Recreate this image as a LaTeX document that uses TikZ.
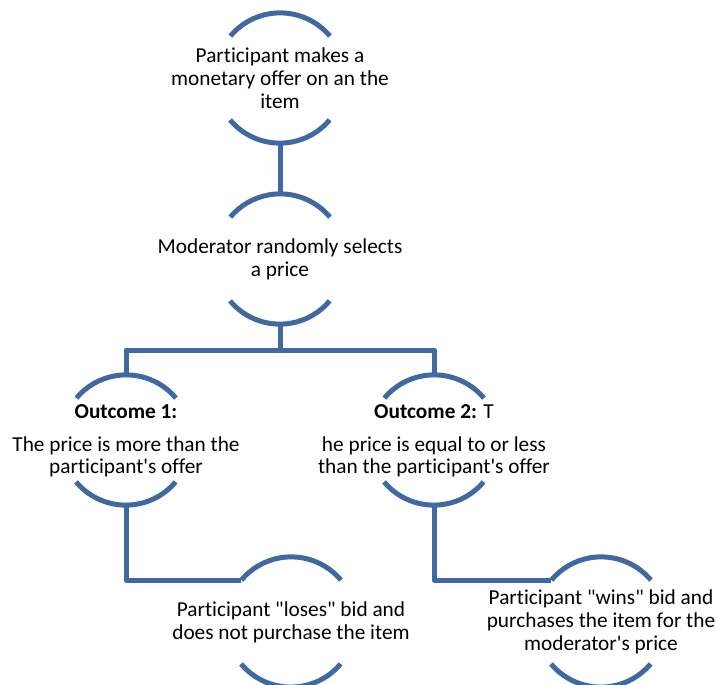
\documentclass[tikz,border=0pt]{standalone}
\usepackage{fontspec}
\newfontfamily\calfont{Carlito}[Ligatures=CommonOff]
\definecolor{arcblue}{RGB}{64,105,160}
\tikzset{
  ring/.style={circle, minimum size=130pt, inner sep=0pt, draw=none},
  label/.style={align=center, font=\calfont\fontsize{21.3}{22.7}\selectfont, text=black, inner sep=0pt},
  conn/.style={draw=arcblue, line width=5pt, line join=round},
}
\newcommand{\ringarcs}[1]{%
  \draw[arcblue, line width=5pt] (#1.40) arc[start angle=40, end angle=140, radius=65pt];
  \draw[arcblue, line width=5pt] (#1.220) arc[start angle=220, end angle=320, radius=65pt];
}
\begin{document}
\begin{tikzpicture}[x=1pt,y=1pt]
\useasboundingbox (0,0) rectangle (716,-685);
% circles
\node[ring] (c1) at (280,-78) {};
\node[ring] (c2) at (280,-259) {};
\node[ring] (c3) at (126,-440) {};
\node[ring] (c4) at (434,-440) {};
\node[ring] (c5) at (291,-622) {};
\node[ring] (c6) at (601,-622) {};
\coordinate (bar) at (280,-350);
% connectors
\draw[conn] (c1.south) -- (c2.north);
\draw[conn] (c2.south) -- (bar);
\draw[conn] (c3.north) |- (bar) -| (c4.north);
\draw[conn] (c3.south) |- (c5.140);
\draw[conn] (c4.south) |- (c6.140);
% arcs
\ringarcs{c1}
\ringarcs{c2}
\ringarcs{c3}
\ringarcs{c4}
\ringarcs{c5}
\ringarcs{c6}
% texts
\node[label] (t1) at (c1) {Participant makes a\\monetary offer on an the\\item};
\node[label] (t2) at (c2) {Moderator randomly selects\\a price};
\node[label] (t3) at ([yshift=-1pt]c3) {\textbf{Outcome 1:}\\[10pt]The price is more than the\\participant's offer};
\node[label] (t4) at ([yshift=-1pt]c4) {\textbf{Outcome 2:} T\\[10pt]he price is equal to or less\\than the participant's offer};
\node[label] (t5) at (c5) {Participant "loses" bid and\\does not purchase the item};
\node[label] (t6) at (c6) {Participant "wins" bid and\\purchases the item for the\\moderator's price};
\end{tikzpicture}
\end{document}
